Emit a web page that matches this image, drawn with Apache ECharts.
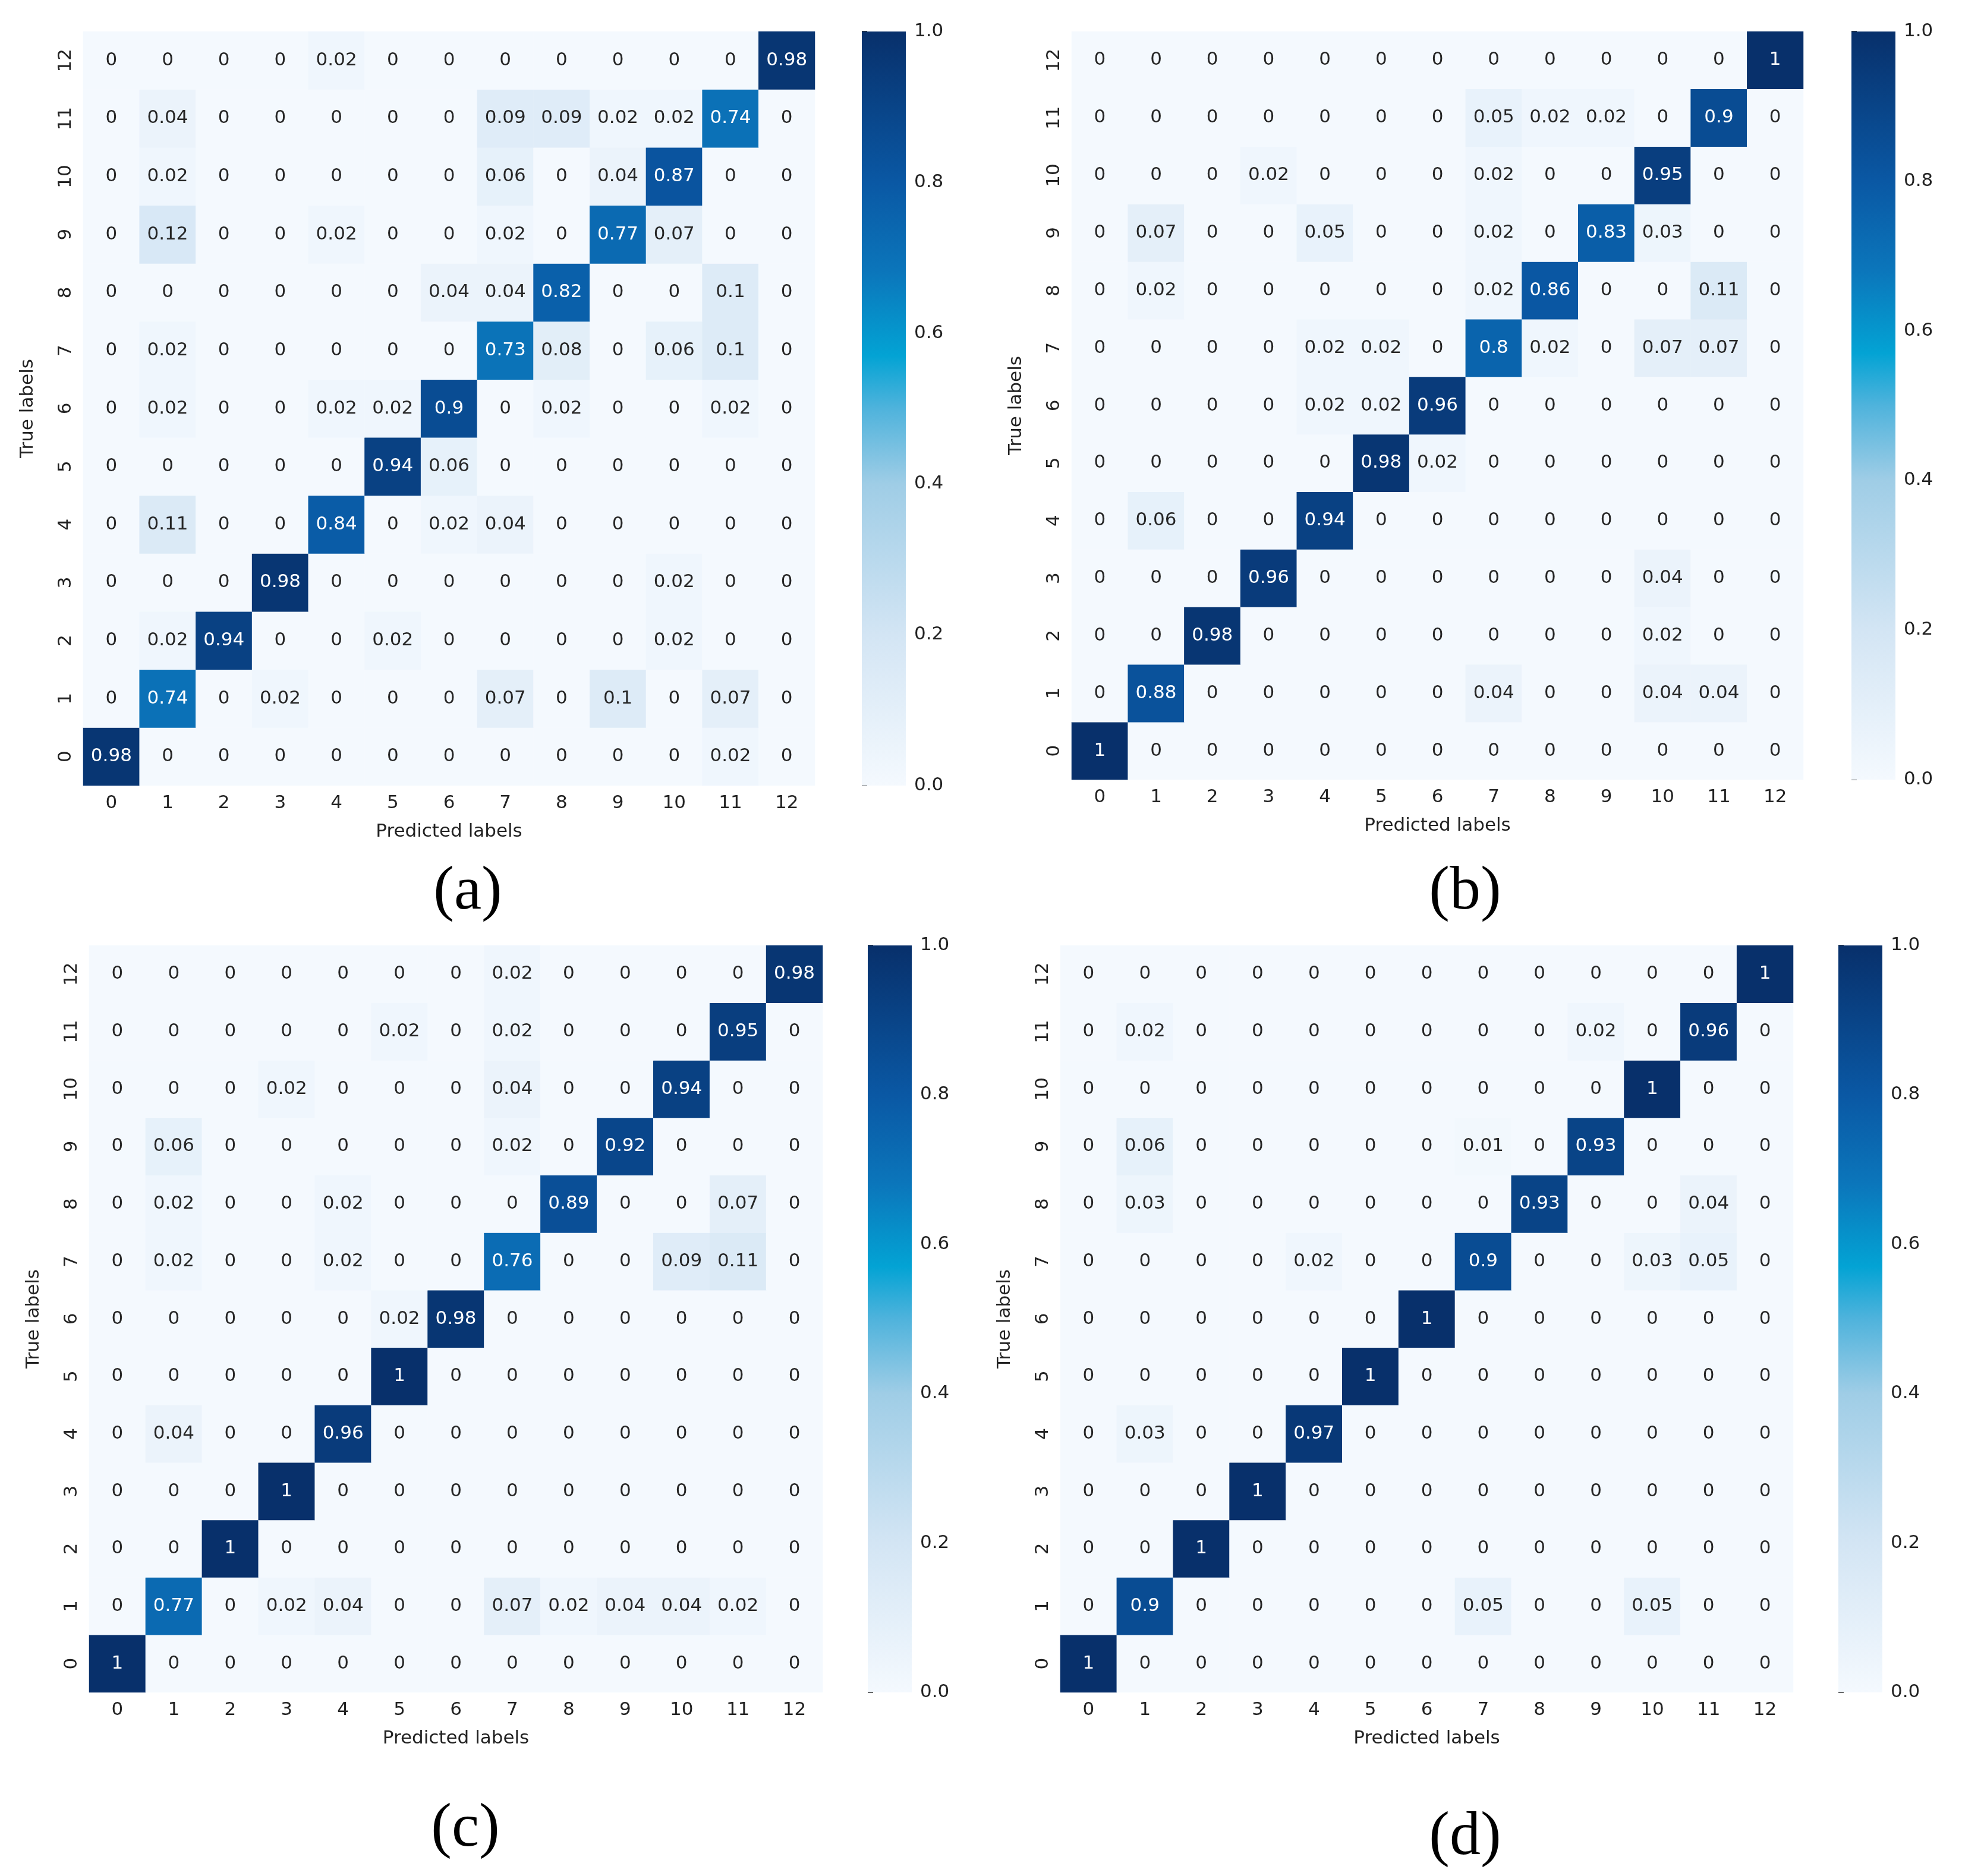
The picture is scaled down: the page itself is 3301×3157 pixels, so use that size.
<!DOCTYPE html>
<html>
<head>
<meta charset="utf-8">
<script src="https://cdn.jsdelivr.net/npm/echarts@6/dist/echarts.min.js"></script>
<style>html,body{margin:0;background:#fff}#main{width:3301px;height:3157px}</style>
</head>
<body>
<div id="main"></div>
<script>
// 类别与数据（行 = 真实标签 0..12，列 = 预测标签 0..12）
var labels = ['0','1','2','3','4','5','6','7','8','9','10','11','12'];
var cbTicks = [0, 0.2, 0.4, 0.6, 0.8, 1.0];

var matA = [
    [0.98,0,0,0,0,0,0,0,0,0,0,0.02,0],
    [0,0.74,0,0.02,0,0,0,0.07,0,0.1,0,0.07,0],
    [0,0.02,0.94,0,0,0.02,0,0,0,0,0.02,0,0],
    [0,0,0,0.98,0,0,0,0,0,0,0.02,0,0],
    [0,0.11,0,0,0.84,0,0.02,0.04,0,0,0,0,0],
    [0,0,0,0,0,0.94,0.06,0,0,0,0,0,0],
    [0,0.02,0,0,0.02,0.02,0.9,0,0.02,0,0,0.02,0],
    [0,0.02,0,0,0,0,0,0.73,0.08,0,0.06,0.1,0],
    [0,0,0,0,0,0,0.04,0.04,0.82,0,0,0.1,0],
    [0,0.12,0,0,0.02,0,0,0.02,0,0.77,0.07,0,0],
    [0,0.02,0,0,0,0,0,0.06,0,0.04,0.87,0,0],
    [0,0.04,0,0,0,0,0,0.09,0.09,0.02,0.02,0.74,0],
    [0,0,0,0,0.02,0,0,0,0,0,0,0,0.98]
];
var matB = [
    [1,0,0,0,0,0,0,0,0,0,0,0,0],
    [0,0.88,0,0,0,0,0,0.04,0,0,0.04,0.04,0],
    [0,0,0.98,0,0,0,0,0,0,0,0.02,0,0],
    [0,0,0,0.96,0,0,0,0,0,0,0.04,0,0],
    [0,0.06,0,0,0.94,0,0,0,0,0,0,0,0],
    [0,0,0,0,0,0.98,0.02,0,0,0,0,0,0],
    [0,0,0,0,0.02,0.02,0.96,0,0,0,0,0,0],
    [0,0,0,0,0.02,0.02,0,0.8,0.02,0,0.07,0.07,0],
    [0,0.02,0,0,0,0,0,0.02,0.86,0,0,0.11,0],
    [0,0.07,0,0,0.05,0,0,0.02,0,0.83,0.03,0,0],
    [0,0,0,0.02,0,0,0,0.02,0,0,0.95,0,0],
    [0,0,0,0,0,0,0,0.05,0.02,0.02,0,0.9,0],
    [0,0,0,0,0,0,0,0,0,0,0,0,1]
];
var matC = [
    [1,0,0,0,0,0,0,0,0,0,0,0,0],
    [0,0.77,0,0.02,0.04,0,0,0.07,0.02,0.04,0.04,0.02,0],
    [0,0,1,0,0,0,0,0,0,0,0,0,0],
    [0,0,0,1,0,0,0,0,0,0,0,0,0],
    [0,0.04,0,0,0.96,0,0,0,0,0,0,0,0],
    [0,0,0,0,0,1,0,0,0,0,0,0,0],
    [0,0,0,0,0,0.02,0.98,0,0,0,0,0,0],
    [0,0.02,0,0,0.02,0,0,0.76,0,0,0.09,0.11,0],
    [0,0.02,0,0,0.02,0,0,0,0.89,0,0,0.07,0],
    [0,0.06,0,0,0,0,0,0.02,0,0.92,0,0,0],
    [0,0,0,0.02,0,0,0,0.04,0,0,0.94,0,0],
    [0,0,0,0,0,0.02,0,0.02,0,0,0,0.95,0],
    [0,0,0,0,0,0,0,0.02,0,0,0,0,0.98]
];
var matD = [
    [1,0,0,0,0,0,0,0,0,0,0,0,0],
    [0,0.9,0,0,0,0,0,0.05,0,0,0.05,0,0],
    [0,0,1,0,0,0,0,0,0,0,0,0,0],
    [0,0,0,1,0,0,0,0,0,0,0,0,0],
    [0,0.03,0,0,0.97,0,0,0,0,0,0,0,0],
    [0,0,0,0,0,1,0,0,0,0,0,0,0],
    [0,0,0,0,0,0,1,0,0,0,0,0,0],
    [0,0,0,0,0.02,0,0,0.9,0,0,0.03,0.05,0],
    [0,0.03,0,0,0,0,0,0,0.93,0,0,0.04,0],
    [0,0.06,0,0,0,0,0,0.01,0,0.93,0,0,0],
    [0,0,0,0,0,0,0,0,0,0,1,0,0],
    [0,0.02,0,0,0,0,0,0,0,0.02,0,0.96,0],
    [0,0,0,0,0,0,0,0,0,0,0,0,1]
];

var mats = [matA, matB, matC, matD];
var names = ['(a)', '(b)', '(c)', '(d)'];

// 布局（像素）
var panels = [
    {l:140, t:53, w:1231, h:1269, cbl:1450, cbt:53, cbh:1269, lx:787, ly:1502},
    {l:1803, t:53, w:1231, h:1259, cbl:3115, cbt:53, cbh:1259, lx:2465, ly:1502},
    {l:150, t:1591, w:1234, h:1257, cbl:1460, cbt:1591, cbh:1257, lx:783, ly:3079},
    {l:1784, t:1591, w:1233, h:1257, cbl:3093, cbt:1591, cbh:1257, lx:2465, ly:3093}
];

var cmap = ['#f4f9fe','#d3e5f4','#9fcde6','#4fb3dc','#03a3d4','#0b76bb','#0a58a4','#08306b'];
var cmapPos = [0, 0.2, 0.4, 0.5, 0.57, 0.68, 0.8, 1];

var font = 'DejaVu Sans';
var grids = [], xAxes = [], yAxes = [], series = [], graphics = [];

panels.forEach(function (p, k) {
    grids.push({left:p.l, top:p.t, width:p.w, height:p.h});
    grids.push({left:p.cbl, top:p.cbt, width:74, height:p.cbh});
    var gi = k * 2;
    xAxes.push({
        gridIndex: gi, type: 'category', data: labels,
        name: 'Predicted labels', nameLocation: 'middle', nameGap: 62,
        nameTextStyle: {fontFamily: font, fontSize: 31, color: '#222'},
        axisLine: {show: false}, axisTick: {length: 9, lineStyle: {color: '#333', width: 2}, alignWithLabel: true},
        axisLabel: {fontFamily: font, fontSize: 31, color: '#222', margin: 14}, splitLine: {show: false}
    });
    yAxes.push({
        gridIndex: gi, type: 'category', data: labels,
        name: 'True labels', nameLocation: 'middle', nameGap: 78, nameRotate: 90,
        nameTextStyle: {fontFamily: font, fontSize: 31, color: '#222'},
        axisLine: {show: false}, axisTick: {length: 9, lineStyle: {color: '#333', width: 2}, alignWithLabel: true},
        axisLabel: {fontFamily: font, fontSize: 31, color: '#222', rotate: 90, margin: 14}, splitLine: {show: false}
    });
    xAxes.push({gridIndex: gi + 1, type: 'value', min: 0, max: 1, show: false});
    yAxes.push({
        gridIndex: gi + 1, type: 'value', min: 0, max: 1, interval: 0.2, position: 'right',
        axisLine: {show: false}, splitLine: {show: false},
        axisTick: {show: true, length: 9, lineStyle: {color: '#333', width: 2}},
        axisLabel: {fontFamily: font, fontSize: 31, color: '#222', margin: 14,
            formatter: function (v) { return v.toFixed(1); }}
    });

    var data = [];
    mats[k].forEach(function (row, r) {
        row.forEach(function (v, c) {
            data.push({
                value: [c, r, v],
                label: {color: v > 0.5 ? '#ffffff' : '#262626'}
            });
        });
    });
    series.push({
        type: 'heatmap', xAxisIndex: gi, yAxisIndex: gi, data: data,
        label: {show: true, fontFamily: font, fontSize: 31,
            formatter: function (pp) { return String(pp.value[2]); }},
        itemStyle: {borderWidth: 0}
    });

    series.push({
        type: 'custom', xAxisIndex: gi + 1, yAxisIndex: gi + 1, data: [[0, 0]], silent: true,
        renderItem: function (params, api) {
            var cs = params.coordSys;
            var stops = cmapPos.map(function (o, i) { return {offset: 1 - o, color: cmap[i]}; }).reverse();
            return {
                type: 'rect',
                shape: {x: cs.x, y: cs.y, width: cs.width, height: cs.height},
                style: {fill: new echarts.graphic.LinearGradient(0, 0, 0, 1, stops)}
            };
        }
    });

    graphics.push({
        type: 'text', x: p.lx, y: p.ly,
        style: {text: names[k], font: '104px "Liberation Serif"', fill: '#000',
            textAlign: 'center', textVerticalAlign: 'middle'}
    });
});

var myChart = echarts.init(document.getElementById('main'));
myChart.setOption({
    backgroundColor: '#fff',
    animation: false,
    grid: grids,
    xAxis: xAxes,
    yAxis: yAxes,
    visualMap: {
        show: false, type: 'continuous', min: 0, max: 1, dimension: 2,
        seriesIndex: [0, 2, 4, 6],
        inRange: {color: cmap}
    },
    series: series,
    graphic: graphics
});
</script>
</body>
</html>
